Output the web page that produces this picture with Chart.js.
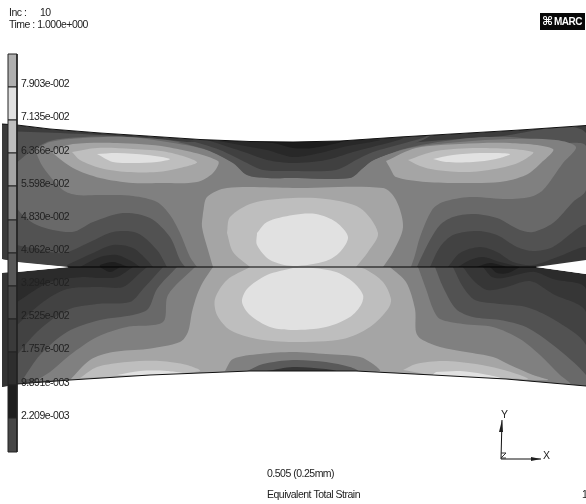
<!DOCTYPE html>
<html>
<head>
<meta charset="utf-8">
<style>
html, body { margin: 0; padding: 0; background: #fff; }
#wrap { width: 586px; height: 504px; }
</style>
<script src="https://cdn.jsdelivr.net/npm/chart.js@4"></script>
</head>
<body>
<div id="wrap"><canvas id="myChart" width="586" height="504"></canvas></div>
<script>
//Legend values and where each one sits on the strip
var legendLabels = ["7.903e-002", "7.135e-002", "6.366e-002", "5.598e-002", "4.830e-002", "4.062e-002", "3.294e-002", "2.525e-002", "1.757e-002", "9.891e-003", "2.209e-003"];
var legendLabelY = [84, 117, 151, 184, 217, 250, 283, 316, 349, 383, 416];
var legendEdges = [54, 87, 120, 153, 186, 220, 253, 286, 319, 352, 385, 418, 452];
var legendGrays = [175, 225, 190, 165, 135, 105, 88, 72, 58, 46, 30, 70];

//Body outlines
var topEdge = [[2,124],[17,125],[50,129],[100,133],[147,136],[200,139.5],[250,141.5],[293,142],[340,141],[400,137],[460,133.5],[520,130],[586,125.5]];
var upperBody = [[2,124],[17,125],[50,129],[100,133],[147,136],[200,139.5],[250,141.5],[293,142],[340,141],[400,137],[460,133.5],[520,130],[586,125.5],[586,260],[536,267],[70,267],[17,262],[2,259],[2,124]];
var lowerBody = [[2,273],[17,272],[70,267],[536,267],[586,274],[586,386],[506,379],[433,375],[356,371],[250,371],[150,375],[70,380],[17,384],[2,387],[2,273]];
var bottomEdge = [[17,384],[70,380],[150,375],[250,371],[356,371],[433,375],[506,379],[586,386]];
var contactLine = [[68,267],[536,267]];

//Upper body contours
var upperFill85 = [[2,131],[60,133],[133,137],[187,142],[240,150],[350,150],[420,142],[493,137],[586,133],[586,260],[536,267],[70,267],[17,262],[2,258],[2,131]];
var upperFill105 = [[8,170],[30,152],[50,141],[83,137],[127,137],[167,140],[207,148],[240,165],[270,178],[340,178],[370,165],[400,150],[460,139],[510,137],[560,143],[586,146],[586,190],[573,202],[553,223],[533,232],[520,230],[497,218],[473,214],[453,217],[440,225],[430,240],[420,260],[417,267],[185,267],[180,260],[170,237],[150,218],[123,213],[93,222],[72,232],[37,225],[17,208],[8,170]];
var upperFill130 = [[35,150],[50,142],[83,138],[127,137],[167,142],[207,150],[233,163],[247,175],[267,178],[293,178],[350,178],[363,168],[373,160],[410,148],[460,142],[510,139],[556,140],[576,147],[563,163],[543,190],[530,197],[507,199],[470,197],[443,202],[432,210],[420,237],[415,255],[411,267],[197,267],[190,257],[180,233],[170,215],[157,202],[133,196],[100,195],[77,195],[63,190],[43,167],[35,150]];
var upperFill165a = [[53,150],[73,144],[117,143],[167,147],[218,161],[213,173],[197,182],[160,183],[133,183],[100,178],[73,168],[53,153],[53,150]];
var upperFill165b = [[386,161],[416,148],[460,144],[510,143],[553,149],[541,163],[526,175],[500,182],[460,183],[426,182],[396,177],[390,168],[386,161]];
var upperFill165c = [[203,213],[207,197],[227,188],[293,188],[383,188],[396,200],[403,227],[393,252],[383,267],[213,267],[208,250],[202,227],[203,213]];
var upperFill190a = [[72,152],[97,148],[133,149],[167,152],[197,162],[180,168],[157,172],[127,172],[100,168],[80,160],[72,152]];
var upperFill190b = [[408,160],[436,151],[480,148],[533,152],[520,162],[500,168],[470,172],[436,170],[420,166],[408,160]];
var upperFill190c = [[227,233],[230,217],[253,203],[293,198],[326,199],[360,208],[378,233],[368,252],[356,267],[250,267],[233,252],[227,233]];
var upperFill225a = [[97,154],[117,153],[147,155],[170,159],[157,162],[133,163],[113,162],[97,154]];
var upperFill225b = [[433,159],[453,155],[480,153],[510,154],[496,159],[473,162],[446,162],[433,159]];
var upperFill225c = [[257,233],[267,222],[293,215],[316,214],[336,222],[348,237],[340,252],[326,261],[293,266],[270,260],[257,245],[257,233]];

//Upper body dark pits
var upperPit70L = [[8,240],[17,245],[33,248],[63,253],[90,242],[113,232],[137,233],[157,250],[167,267],[70,267],[17,262],[8,259],[8,240]];
var upperPit55L = [[67,265],[93,253],[113,245],[133,248],[147,260],[153,267],[67,267],[67,265]];
var upperPit40L = [[80,267],[100,257],[117,255],[133,262],[140,267],[80,267]];
var upperPit28L = [[100,267],[100,265],[113,262],[123,265],[128,267],[100,267]];
var upperPit70R = [[430,267],[440,247],[453,235],[477,231],[497,235],[517,247],[533,251],[553,247],[586,225],[586,260],[536,267],[430,267]];
var upperPit55R = [[448,267],[460,253],[480,247],[497,252],[513,262],[533,265],[560,256],[586,247],[586,260],[536,267],[448,267]];
var upperPit40R = [[458,267],[470,260],[483,257],[500,262],[520,267],[458,267]];
var upperPit28R = [[477,267],[490,263],[507,267],[477,267]];
var upperPitTop85 = [[178,142],[250,141.5],[293,142],[340,141],[430,135],[372,161],[363,168],[350,178],[293,178],[267,178],[247,175],[233,163],[207,150],[178,142]];
var upperPitTop70 = [[187,139.5],[250,141.5],[293,142],[340,141],[426,136],[373,152],[356,160],[336,170],[293,171],[263,170],[247,163],[220,150],[187,139.5]];
var upperPitTop55 = [[207,140],[250,141.5],[293,142],[340,141],[403,138],[353,152],[326,160],[293,163],[267,160],[247,153],[207,140]];
var upperPitTop40 = [[213,140],[250,141.5],[293,142],[340,141],[380,140],[343,147],[320,153],[293,157],[267,150],[240,145],[213,140]];
var upperPitTop28 = [[253,141.5],[293,142],[343,141],[313,148],[293,148],[273,143],[253,141.5]];

//Lower body contours, each closed along the contact line and the lower edge
var lowerFill55 = [[17,302],[50,282],[83,277],[100,278],[117,277],[133,267],[483,267],[492,277],[503,278],[520,274],[535,272],[553,279],[586,289],[586,386],[506,379],[433,375],[356,371],[250,371],[150,375],[70,380],[17,386],[17,302]];
var lowerFill70 = [[17,325],[43,302],[67,289],[100,287],[123,287],[140,273],[147,267],[463,267],[473,280],[487,290],[503,288],[530,281],[553,294],[586,312],[586,386],[506,379],[433,375],[356,371],[250,371],[150,375],[70,380],[17,386],[17,325]];
var lowerFill85 = [[17,355],[37,332],[67,310],[97,304],[130,302],[143,289],[163,267],[453,267],[463,287],[475,300],[500,304],[526,307],[553,319],[586,345],[586,386],[506,379],[433,375],[356,371],[250,371],[150,375],[70,380],[17,386],[17,355]];
var lowerFill105 = [[23,379],[40,355],[67,332],[100,320],[133,315],[148,309],[157,289],[177,267],[435,267],[443,287],[456,309],[473,317],[500,320],[526,327],[553,345],[586,375],[586,386],[506,379],[433,375],[356,371],[250,371],[150,375],[70,380],[23,379]];
var lowerFill130 = [[35,381],[50,372],[70,355],[97,337],[127,327],[163,322],[168,295],[195,267],[418,267],[426,289],[433,309],[440,319],[463,324],[493,327],[520,339],[540,355],[560,375],[570,384],[506,379],[433,375],[356,371],[250,371],[150,375],[70,380],[35,381]];
var lowerFill165 = [[70,380],[90,360],[113,352],[147,349],[180,342],[188,332],[192,312],[197,295],[203,282],[213,267],[390,267],[406,282],[415,309],[416,332],[421,339],[440,347],[466,352],[493,357],[510,365],[533,375],[548,380],[506,379],[433,375],[356,371],[250,371],[150,375],[70,380]];
var lowerFill190a = [[80,378],[97,367],[127,362],[160,361],[187,365],[200,371],[150,375],[80,378]];
var lowerFill190b = [[403,370],[416,364],[443,361],[476,364],[500,369],[520,375],[528,379],[506,378],[433,375],[403,370]];
var lowerFill190c = [[250,267],[227,280],[215,299],[217,315],[230,330],[257,339],[293,342],[343,339],[370,327],[388,309],[391,299],[383,282],[365,269],[356,267],[250,267]];
var lowerFill225a = [[117,375],[140,371],[167,371],[187,374],[150,375],[117,375]];
var lowerFill225b = [[436,372],[460,371],[483,374],[500,378],[433,375],[436,372]];
var lowerFill225c = [[293,268],[267,275],[247,289],[242,302],[250,315],[270,327],[293,330],[326,327],[350,317],[361,305],[363,295],[353,282],[336,272],[313,268],[293,268]];
var lowerPit130 = [[225,371],[233,359],[260,354],[293,352],[326,354],[360,357],[373,364],[380,371],[356,371],[250,371],[225,371]];
var lowerPit90 = [[247,371],[263,364],[293,360],[326,362],[350,367],[358,371],[250,371],[247,371]];
var lowerPit55 = [[267,371],[293,367],[326,369],[336,371],[267,371]];
var lowerPit30L = [[100,267],[110,272],[120,267],[100,267]];
var lowerPit30R = [[490,267],[497,273],[508,273],[520,267],[490,267]];

//Paint order for the contours and the gray of each one
var bandList = [upperBody, upperFill85, upperFill105, upperFill130, upperFill165a, upperFill165b, upperFill165c, upperFill190a, upperFill190b, upperFill190c, upperFill225a, upperFill225b, upperFill225c, upperPit70L, upperPit55L, upperPit40L, upperPit28L, upperPit70R, upperPit55R, upperPit40R, upperPit28R, upperPitTop85, upperPitTop70, upperPitTop55, upperPitTop40, upperPitTop28,
    lowerBody, lowerFill55, lowerFill70, lowerFill85, lowerFill105, lowerFill130, lowerFill165, lowerFill190a, lowerFill190b, lowerFill190c, lowerFill225a, lowerFill225b, lowerFill225c, lowerPit130, lowerPit90, lowerPit55, lowerPit30L, lowerPit30R];
var bandGrays = [60, 82, 105, 128, 165, 165, 165, 190, 190, 190, 225, 225, 225, 66, 54, 43, 30, 66, 54, 43, 30, 82, 64, 50, 40, 28,
    43, 54, 66, 82, 105, 128, 165, 190, 190, 190, 225, 225, 225, 128, 90, 55, 32, 32];

//White cover outside the bodies, trims the smoothed contours
var maskTop = [[0,0],[586,0],[586,125.5],[520,130],[460,133.5],[400,137],[340,141],[293,142],[250,141.5],[200,139.5],[147,136],[100,133],[50,129],[17,125],[2,124],[0,124],[0,0]];
var maskBottom = [[0,387],[2,387],[17,384],[70,380],[150,375],[250,371],[356,371],[433,375],[506,379],[586,386],[586,504],[0,504],[0,387]];
var maskWedgeL = [[0,259],[2,259],[17,262],[68,267],[17,272],[2,273],[0,273],[0,259]];
var maskWedgeR = [[586,260],[536,267],[586,274],[586,260]];
var maskColumn = [[0,0],[2,0],[2,504],[0,504],[0,0]];

//Bit of each body showing left of the strip
var stubUpper = [[2,124],[8,124.5],[8,260],[2,259],[2,124]];
var stubLower = [[2,273],[8,272.5],[8,386],[2,387],[2,273]];

//Little triad in the corner
var axisY = [[501,459],[502,420]];
var axisX = [[501,459],[541,459]];
var arrowY = [[502,420],[499,432],[503,432],[502,420]];
var arrowX = [[541,459],[531,457],[531,461],[541,459]];
var axisZ = [[501,453],[506,453],[501,458],[506,458]];

//Text written on the picture
var noteTexts = ["Inc :", "10", "Time : 1.000e+000", "0.505 (0.25mm)", "Equivalent Total Strain", "1", "Y", "X"];
var noteX = [9, 40, 9, 267, 267, 582, 501, 543];
var noteY = [13, 13, 25, 474, 495, 495, 415, 456];

function toPoints(list) {
    return list.map(function (p) { return {x: p[0], y: p[1]}; });
}
//a point given twice makes a sharp corner under the line smoothing
function contactCorners(list) {
    var out = [];
    list.forEach(function (p) {
        out.push(p);
        if (p[1] === 267) out.push(p);
    });
    return out;
}
function gray(g) {
    return "rgb(" + g + "," + g + "," + g + ")";
}
function shape(list, g, tension) {
    return {
        data: toPoints(list),
        showLine: true,
        fill: "shape",
        backgroundColor: gray(g),
        borderColor: gray(g),
        borderWidth: 0,
        pointRadius: 0,
        tension: tension
    };
}
function line(list, color, width) {
    return {
        data: toPoints(list),
        showLine: true,
        fill: false,
        borderColor: color,
        borderWidth: width,
        pointRadius: 0,
        tension: 0
    };
}

var datasets = [];
bandList.forEach(function (band, i) {
    var isOutline = band === upperBody || band === lowerBody;
    datasets.push(shape(contactCorners(band), bandGrays[i], isOutline ? 0 : 0.3));
});
[maskTop, maskBottom, maskWedgeL, maskWedgeR, maskColumn].forEach(function (m) {
    datasets.push(shape(m, 255, 0));
});
datasets.push(shape(stubUpper, 58, 0));
datasets.push(shape(stubLower, 52, 0));
datasets.push(line(topEdge, "#111", 1));
datasets.push(line(bottomEdge, "#111", 1));
datasets.push(line(contactLine, "#000", 1.2));
//legend strip
legendGrays.forEach(function (g, i) {
    var y0 = legendEdges[i], y1 = legendEdges[i + 1];
    var d = shape([[8,y0],[17,y0],[17,y1],[8,y1],[8,y0]], g, 0);
    d.borderColor = "#222";
    d.borderWidth = 1;
    datasets.push(d);
});
datasets.push(line(axisY, "#111", 1));
datasets.push(line(axisX, "#111", 1));
datasets.push(shape(arrowY, 30, 0));
datasets.push(shape(arrowX, 30, 0));
datasets.push(line(axisZ, "#333", 1));
datasets.push(shape([[540,13],[585,13],[585,30],[540,30],[540,13]], 8, 0));
//Chart.js paints the first dataset last, we listed them back to front
datasets.reverse();

//draws the free text and the logo through the scales
var notesPlugin = {
    id: "notes",
    beforeDraw: function (chart) {
        chart.ctx.letterSpacing = "-0.5px";
    },
    afterDraw: function (chart) {
        var c = chart.ctx, sx = chart.scales.x, sy = chart.scales.y;
        c.save();
        c.textBaseline = "middle";
        c.textAlign = "left";
        c.fillStyle = "#222";
        c.font = "10.5px 'Liberation Sans'";
        noteTexts.forEach(function (t, i) {
            c.fillText(t, sx.getPixelForValue(noteX[i]), sy.getPixelForValue(noteY[i]));
        });
        c.fillStyle = "#fff";
        c.font = "bold 10px 'Liberation Sans'";
        c.fillText("MARC", sx.getPixelForValue(554), sy.getPixelForValue(22));
        c.font = "bold 12px 'DejaVu Sans'";
        c.fillText("\u2318", sx.getPixelForValue(542), sy.getPixelForValue(22));
        c.restore();
    }
};

new Chart(document.getElementById("myChart"), {
    type: "scatter",
    data: {datasets: datasets},
    plugins: [notesPlugin],
    options: {
        responsive: false,
        animation: false,
        layout: {padding: 0},
        plugins: {legend: {display: false}, tooltip: {enabled: false}},
        scales: {
            x: {type: "linear", min: 0, max: 586, display: false},
            y: {
                type: "linear",
                reverse: true,
                min: 0,
                max: 504,
                position: "left",
                afterBuildTicks: function (scale) {
                    scale.ticks = legendLabelY.map(function (v) { return {value: v}; });
                },
                afterFit: function (scale) {
                    scale.width = 0;
                    scale.paddingTop = 0;
                    scale.paddingBottom = 0;
                },
                border: {display: false},
                grid: {display: false, drawTicks: false},
                ticks: {
                    z: 1,
                    mirror: true,
                    padding: 21,
                    autoSkip: false,
                    maxRotation: 0,
                    color: "#222",
                    font: {family: "'Liberation Sans'", size: 10.5},
                    callback: function (v) { return legendLabels[legendLabelY.indexOf(v)]; }
                }
            }
        }
    }
});
</script>
</body>
</html>
